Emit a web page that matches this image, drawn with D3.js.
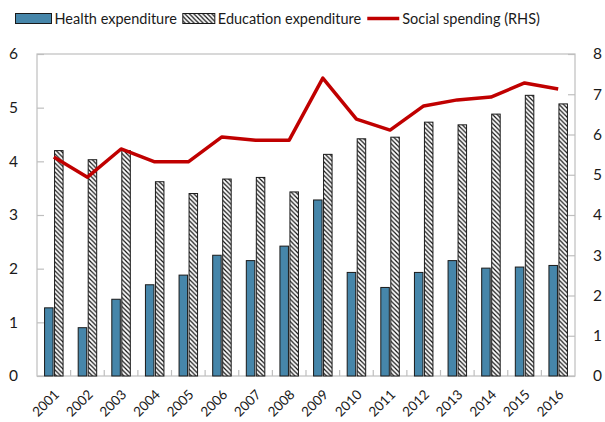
<!DOCTYPE html>
<html>
<head>
<meta charset="utf-8">
<script src="https://cdn.jsdelivr.net/npm/d3@7"></script>
<style>
  body { margin: 0; background: #fff; }
  text { font-family: Lato, "Open Sans", sans-serif; fill: #1a1a1a; }
</style>
</head>
<body>
<div id="chart"></div>
<script>
const years = ["2001","2002","2003","2004","2005","2006","2007","2008",
               "2009","2010","2011","2012","2013","2014","2015","2016"];
const health = [1.27, 0.9, 1.43, 1.7, 1.88, 2.25, 2.15, 2.42, 3.28, 1.93, 1.65, 1.93, 2.15, 2.01, 2.03, 2.06];
const education = [4.2, 4.03, 4.2, 3.62, 3.4, 3.67, 3.7, 3.43, 4.13, 4.42, 4.45, 4.73, 4.68, 4.88, 5.23, 5.07];
const social = [5.44, 4.94, 5.64, 5.32, 5.32, 5.94, 5.86, 5.86, 7.4, 6.38, 6.11, 6.71, 6.86, 6.93, 7.28, 7.13];
const leftTicks = [0, 1, 2, 3, 4, 5, 6];
const rightTicks = [0, 1, 2, 3, 4, 5, 6, 7, 8];
const legendLabels = ["Health expenditure", "Education expenditure", "Social spending (RHS)"];

const width = 605, height = 422;
const margin = {top: 54, right: 30, bottom: 46, left: 37};

const svg = d3.select("#chart").append("svg")
    .attr("width", width)
    .attr("height", height);

const defs = svg.append("defs");
const pat = defs.append("pattern")
    .attr("id", "hatch")
    .attr("patternUnits", "userSpaceOnUse")
    .attr("width", 4.5).attr("height", 4.5);
pat.append("rect").attr("width", 4.5).attr("height", 4.5).attr("fill", "#fff");
pat.append("path")
    .attr("d", "M-1,-1 L5.5,5.5 M-1,3.5 L1,5.5 M3.5,-1 L5.5,1")
    .attr("stroke", "#111").attr("stroke-width", 1.2);

const x = d3.scaleBand().domain(years)
    .range([margin.left, width - margin.right]);
const y = d3.scaleLinear().domain([0, 6])
    .range([height - margin.bottom, margin.top]);
const y2 = d3.scaleLinear().domain([0, 8])
    .range([height - margin.bottom, margin.top]);

const barW = 8.5, gap = 1.5;

// plot frame
svg.append("rect")
    .attr("x", margin.left).attr("y", margin.top)
    .attr("width", width - margin.left - margin.right)
    .attr("height", height - margin.top - margin.bottom)
    .attr("fill", "none").attr("stroke", "#bfbfbf").attr("stroke-width", 1.2);

// left axis
const yAxis = d3.axisLeft(y).tickValues(leftTicks).tickFormat(d3.format("d"))
    .tickSize(-7).tickPadding(19);
const gl = svg.append("g").attr("transform", `translate(${margin.left},0)`).call(yAxis);
// right axis
const y2Axis = d3.axisRight(y2).tickValues(rightTicks).tickFormat(d3.format("d"))
    .tickSize(-7).tickPadding(18);
const gr = svg.append("g").attr("transform", `translate(${width - margin.right},0)`).call(y2Axis);
// bottom axis ticks between categories
const xAxis = d3.axisBottom(x).tickSize(0).tickPadding(0);
const gb = svg.append("g").attr("transform", `translate(0,${height - margin.bottom})`).call(xAxis);
gb.selectAll(".tick").each(function (d, i) {
  if (i > 0) {
    d3.select(this).append("line")
      .attr("x1", -x.step() / 2).attr("x2", -x.step() / 2)
      .attr("y1", 0).attr("y2", -6);
  }
});

[gl, gr, gb].forEach(g => {
  g.select(".domain").remove();
  g.selectAll(".tick line").attr("stroke", "#bfbfbf").attr("stroke-width", 1.2);
  g.selectAll("text").style("font-size", "15.5px").attr("fill", "#1a1a1a");
});
gb.selectAll(".tick text")
    .style("font-size", "13.5px")
    .attr("text-anchor", "end")
    .attr("y", 0).attr("dx", 0).attr("dy", "0.35em")
    .attr("transform", "translate(3,16) rotate(-45)");

// bars
svg.selectAll(".health").data(health).enter().append("rect")
    .attr("class", "health")
    .attr("x", (d, i) => x(years[i]) + x.bandwidth() / 2 - barW - gap / 2)
    .attr("y", d => y(d))
    .attr("width", barW)
    .attr("height", d => y(0) - y(d))
    .attr("fill", "#4686aa").attr("stroke", "#1a1a1a").attr("stroke-width", 1);

svg.selectAll(".edu").data(education).enter().append("rect")
    .attr("class", "edu")
    .attr("x", (d, i) => x(years[i]) + x.bandwidth() / 2 + gap / 2)
    .attr("y", d => y(d))
    .attr("width", barW)
    .attr("height", d => y(0) - y(d))
    .attr("fill", "url(#hatch)").attr("stroke", "#1a1a1a").attr("stroke-width", 1);

// line
const line = d3.line()
    .x((d, i) => x(years[i]) + x.bandwidth() / 2)
    .y(d => y2(d));
svg.append("path").datum(social)
    .attr("d", line)
    .attr("fill", "none").attr("stroke", "#c00000").attr("stroke-width", 3.5)
    .attr("stroke-linejoin", "round");

// legend, laid out left to right from measured text widths
const lg = svg.append("g").style("font-size", "14.5px");
const swatchW = [36, 32, 32];
let lx = 15.5;
legendLabels.forEach((label, i) => {
  if (i === 0) {
    lg.append("rect").attr("x", lx).attr("y", 13.5).attr("width", swatchW[i]).attr("height", 10)
      .attr("fill", "#4686aa").attr("stroke", "#1a1a1a");
  } else if (i === 1) {
    lg.append("rect").attr("x", lx).attr("y", 13.5).attr("width", swatchW[i]).attr("height", 10)
      .attr("fill", "url(#hatch)").attr("stroke", "#1a1a1a");
  } else {
    lg.append("line").attr("x1", lx).attr("x2", lx + swatchW[i]).attr("y1", 18.5).attr("y2", 18.5)
      .attr("stroke", "#c00000").attr("stroke-width", 3.5);
  }
  const t = lg.append("text").attr("x", lx + swatchW[i] + 3).attr("y", 24).text(label);
  lx += swatchW[i] + 3 + t.node().getComputedTextLength() + 6;
});
</script>
</body>
</html>
